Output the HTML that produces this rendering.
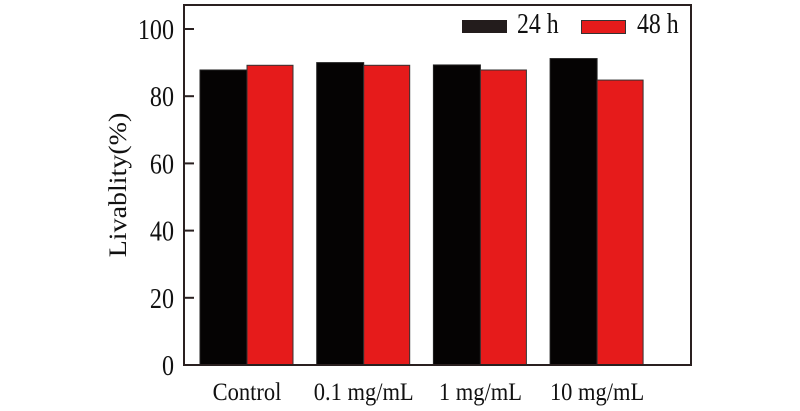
<!DOCTYPE html>
<html><head><meta charset="utf-8"><style>body{margin:0;background:#fff}svg{display:block;font-family:"Liberation Serif",serif}</style></head>
<body>
<svg id="chart" width="800" height="411"></svg>
<script>
const categories = ["Control","0.1 mg/mL","1 mg/mL","10 mg/mL"];
const series24 = [87.8, 90.0, 89.3, 91.2];
const series48 = [89.2, 89.2, 87.8, 84.8];
const yTicks = [0,20,40,60,80,100];
const NS="http://www.w3.org/2000/svg";
const svg=document.getElementById('chart');
const L=184,R=691,T=5,B=365;
const y=v=>B-v*3.36;
const x=i=>247+i*116.7;
function mk(t,a){const e=document.createElementNS(NS,t);for(const k in a)e.setAttribute(k,a[k]);svg.appendChild(e);return e;}
function txt(s,tx,ty,fs,anchor,sx){const e=mk('text',{x:0,y:0,transform:`translate(${tx},${ty}) scale(${sx},1)`,'text-anchor':anchor,'font-size':fs,fill:'#111'});e.textContent=s;return e;}
const bw=47;
categories.forEach((c,i)=>{
  let b=mk('rect',{x:x(i)-bw,y:y(series24[i]),width:bw,height:B-y(series24[i]),fill:'#050303',stroke:'#222','stroke-width':1});
  
  
  let r=mk('rect',{x:x(i),y:y(series48[i]),width:bw-1,height:B-y(series48[i]),fill:'#e61b1b',stroke:'#333','stroke-width':1});
  
  
  let t=txt(c,x(i),400,25,'middle',0.9);
  
  
});
yTicks.forEach(v=>{
  let l=mk('line',{x1:L,x2:L+10,y1:y(v),y2:y(v),stroke:'#2a2020','stroke-width':2});
  
  
  let t=txt(String(v),174,y(v)+10,28,'end',0.86);
  
  
});
let f=mk('rect',{x:L,y:T,width:R-L,height:B-T,fill:'none',stroke:'#2a2020','stroke-width':2});


let yl=mk('text',{x:0,y:0,transform:'translate(126,185) rotate(-90) scale(1,0.9)','text-anchor':'middle','font-size':28,fill:'#111'});
yl.textContent='Livablity(%)';


let lb=mk('rect',{x:462,y:20,width:45,height:13,fill:'#231c1c'});


let lt=txt('24 h',517,33,28,'start',0.85);


let rb=mk('rect',{x:581.5,y:20.5,width:44,height:13,fill:'#e61b1b',stroke:'#333','stroke-width':1});


let rt=txt('48 h',637,33,28,'start',0.85);


</script>
</body></html>
